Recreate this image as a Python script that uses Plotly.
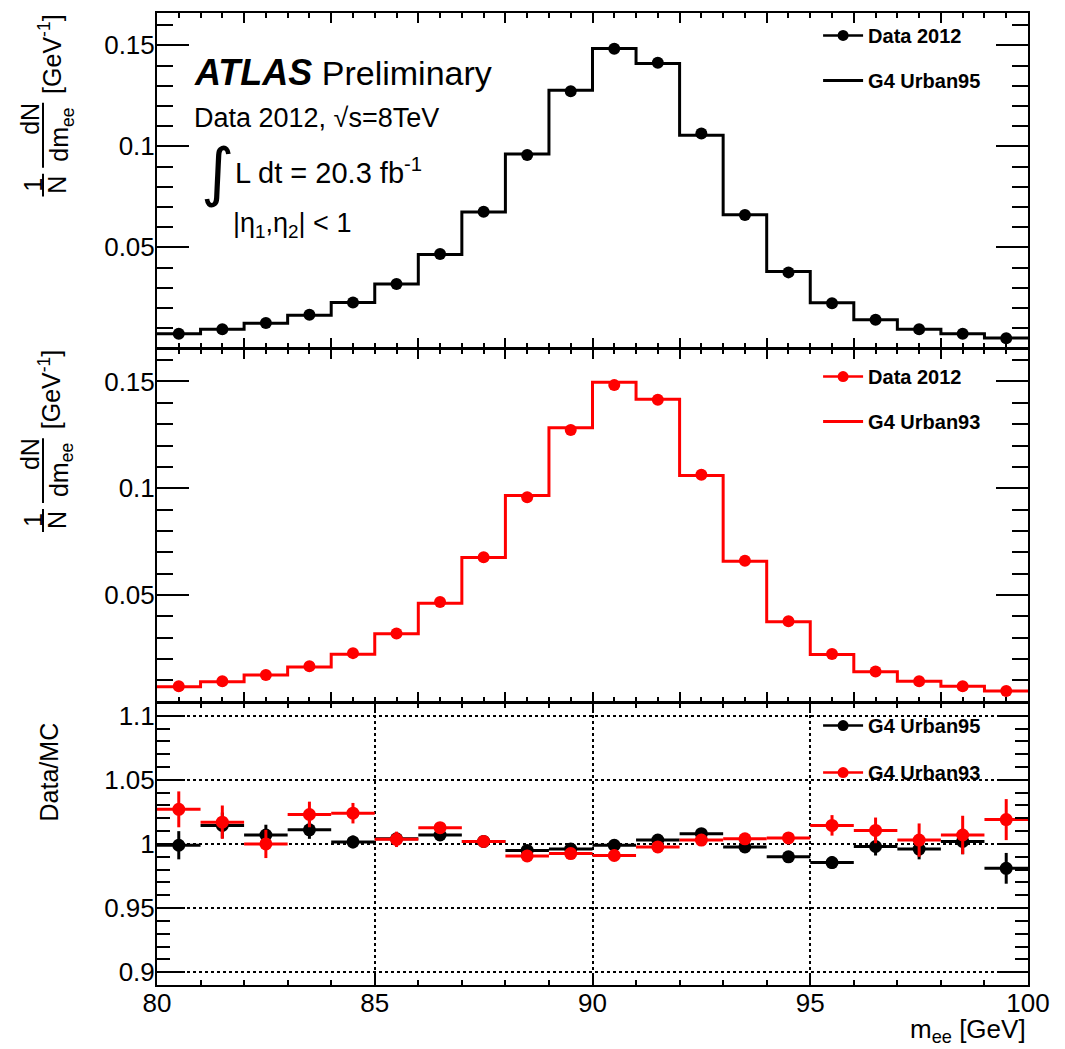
import plotly.graph_objects as go

# ---------------- data ----------------
bin_centers = [80.5, 81.5, 82.5, 83.5, 84.5, 85.5, 86.5, 87.5, 88.5, 89.5,
               90.5, 91.5, 92.5, 93.5, 94.5, 95.5, 96.5, 97.5, 98.5, 99.5]
bin_half_width = 0.5

data_2012 = [0.0072, 0.0095, 0.0125, 0.0166, 0.0227, 0.0319, 0.0467, 0.0676, 0.0957, 0.1273,
             0.1483, 0.1414, 0.1063, 0.0660, 0.0376, 0.0223, 0.0141, 0.0095, 0.0072, 0.0050]

mc_urban95 = [0.0072, 0.0094, 0.0124, 0.0164, 0.0227, 0.0318, 0.0464, 0.0675, 0.0962, 0.1278,
              0.1484, 0.1410, 0.1055, 0.0661, 0.0380, 0.0226, 0.0141, 0.0095, 0.0072, 0.0051]

mc_urban93 = [0.0070, 0.0093, 0.0125, 0.0162, 0.0222, 0.0318, 0.0461, 0.0675, 0.0966, 0.1283,
              0.1496, 0.1417, 0.1060, 0.0657, 0.0374, 0.0220, 0.0140, 0.0095, 0.0072, 0.0049]

ratio_urban95 = [0.999, 1.0145, 1.007, 1.011, 1.0016, 1.004, 1.007, 1.002, 0.995, 0.996,
                 0.999, 1.003, 1.008, 0.9977, 0.990, 0.9855, 0.998, 0.996, 1.002, 0.981]
ratio_urban95_err = [0.011, 0.010, 0.008, 0.007, 0.005, 0.004, 0.003, 0.002, 0.002, 0.002,
                     0.002, 0.002, 0.002, 0.003, 0.003, 0.005, 0.007, 0.008, 0.010, 0.012]

ratio_urban93 = [1.027, 1.017, 1.000, 1.023, 1.024, 1.0036, 1.0127, 1.002, 0.9907, 0.9925,
                 0.991, 0.9977, 1.003, 1.004, 1.0047, 1.0145, 1.0106, 1.003, 1.007, 1.019]
ratio_urban93_err = [0.014, 0.013, 0.011, 0.010, 0.008, 0.006, 0.004, 0.003, 0.002, 0.002,
                     0.002, 0.002, 0.002, 0.003, 0.004, 0.008, 0.010, 0.013, 0.015, 0.016]

top_yticks = [0.05, 0.1, 0.15]
top_yticklabels = ["0.05", "0.1", "0.15"]
ratio_yticks = [0.9, 0.95, 1.0, 1.05, 1.1]
ratio_yticklabels = ["0.9", "0.95", "1", "1.05", "1.1"]
x_ticks = [80, 85, 90, 95, 100]
x_ticklabels = ["80", "85", "90", "95", "100"]

# ---------------- helpers ----------------
edges = [c - bin_half_width for c in bin_centers] + [bin_centers[-1] + bin_half_width]

def step_y(vals):
    return list(vals) + [vals[-1]]

FONT = "Liberation Sans, Arial, Helvetica, sans-serif"
RED = "#ff0000"
BLACK = "#000000"

fig = go.Figure()

# ---------------- top panel ----------------
fig.add_trace(go.Scatter(x=edges, y=step_y(mc_urban95), mode="lines", line_shape="hv",
                         line=dict(color=BLACK, width=3), xaxis="x", yaxis="y",
                         showlegend=False, hoverinfo="skip"))
fig.add_trace(go.Scatter(x=bin_centers, y=data_2012, mode="markers",
                         marker=dict(color=BLACK, size=12), xaxis="x", yaxis="y",
                         showlegend=False))
fig.add_trace(go.Scatter(x=[None], y=[None], mode="lines+markers", name="Data 2012",
                         marker=dict(color=BLACK, size=11), line=dict(color=BLACK, width=2.5),
                         xaxis="x", yaxis="y", legend="legend", legendgroup="a"))
fig.add_trace(go.Scatter(x=[None], y=[None], mode="lines", name="G4 Urban95",
                         line=dict(color=BLACK, width=3),
                         xaxis="x", yaxis="y", legend="legend", legendgroup="b"))

# ---------------- middle panel ----------------
fig.add_trace(go.Scatter(x=edges, y=step_y(mc_urban93), mode="lines", line_shape="hv",
                         line=dict(color=RED, width=3), xaxis="x2", yaxis="y2",
                         showlegend=False, hoverinfo="skip"))
fig.add_trace(go.Scatter(x=bin_centers, y=data_2012, mode="markers",
                         marker=dict(color=RED, size=12), xaxis="x2", yaxis="y2",
                         showlegend=False))
fig.add_trace(go.Scatter(x=[None], y=[None], mode="lines+markers", name="Data 2012",
                         marker=dict(color=RED, size=11), line=dict(color=RED, width=2.5),
                         xaxis="x2", yaxis="y2", legend="legend2", legendgroup="c"))
fig.add_trace(go.Scatter(x=[None], y=[None], mode="lines", name="G4 Urban93",
                         line=dict(color=RED, width=3),
                         xaxis="x2", yaxis="y2", legend="legend2", legendgroup="d"))

# ---------------- ratio panel ----------------
for vals, errs, col, name, grp in [(ratio_urban95, ratio_urban95_err, BLACK, "G4 Urban95", "e"),
                                   (ratio_urban93, ratio_urban93_err, RED, "G4 Urban93", "f")]:
    fig.add_trace(go.Scatter(x=bin_centers, y=vals, mode="markers",
                             marker=dict(color=col, size=13),
                             error_x=dict(type="constant", value=bin_half_width, color=col,
                                          thickness=3, width=0),
                             error_y=dict(type="data", array=errs, color=col,
                                          thickness=3, width=0),
                             xaxis="x3", yaxis="y3", showlegend=False))
    fig.add_trace(go.Scatter(x=[None], y=[None], mode="lines+markers", name=name,
                             marker=dict(color=col, size=11), line=dict(color=col, width=2.5),
                             xaxis="x3", yaxis="y3", legend="legend3", legendgroup=grp))

# ---------------- axes ----------------
def xax(domain_anchor, show_labels, dtick, minor_dtick, grid=False):
    return dict(
        range=[80, 100], anchor=domain_anchor, domain=[0, 1],
        showline=True, linecolor=BLACK, linewidth=2, mirror="ticks",
        ticks="inside", ticklen=10, tickwidth=2, tickcolor=BLACK,
        tickmode="array" if show_labels else "linear",
        tickvals=x_ticks if show_labels else None,
        ticktext=x_ticklabels if show_labels else None,
        tick0=80, dtick=None if show_labels else dtick,
        showticklabels=show_labels,
        ticklabelstandoff=-6,
        tickfont=dict(family=FONT, size=26, color=BLACK),
        minor=dict(ticks="inside", ticklen=5, tickwidth=2, tickcolor=BLACK,
                   dtick=minor_dtick, tick0=80, showgrid=False),
        showgrid=grid, gridcolor=BLACK, gridwidth=1.5, griddash="dot",
        zeroline=False,
    )

def yax(domain, rng, anchor, tickvals, ticktext, majlen, minlen, minor_dtick, minor_tick0, grid=False):
    return dict(
        domain=domain, range=rng, anchor=anchor,
        showline=True, linecolor=BLACK, linewidth=2, mirror="ticks",
        ticks="inside", ticklen=majlen, tickwidth=2, tickcolor=BLACK,
        tickmode="array", tickvals=tickvals, ticktext=ticktext,
        ticklabelstandoff=-5,
        tickfont=dict(family=FONT, size=26, color=BLACK),
        minor=dict(ticks="inside", ticklen=minlen, tickwidth=2, tickcolor=BLACK,
                   dtick=minor_dtick, tick0=minor_tick0, showgrid=False),
        showgrid=grid, gridcolor=BLACK, gridwidth=1.5, griddash="dot",
        zeroline=False,
    )

LEG_FONT = dict(family=FONT, size=20, weight="bold", color=BLACK)

fig.update_layout(
    width=1065, height=1049,
    margin=dict(l=157, r=37, t=11, b=64),
    paper_bgcolor="white", plot_bgcolor="white",
    font=dict(family=FONT, color=BLACK),
    xaxis=xax("y", False, 2, 0.5),
    xaxis2=xax("y2", False, 2, 0.5),
    xaxis3=xax("y3", True, 5, 1, grid=True),
    yaxis=yax([0.6550, 1.0], [0, 0.166], "x", top_yticks, top_yticklabels, 32, 16, 0.01, 0),
    yaxis2=yax([0.2916, 0.6547], [0, 0.1654], "x2", top_yticks, top_yticklabels, 32, 16, 0.01, 0),
    yaxis3=yax([0.0, 0.2902], [0.89, 1.11], "x3", ratio_yticks, ratio_yticklabels, 28, 13, 0.01, 0.9, grid=True),
    legend=dict(x=0.759, y=0.997, xanchor="left", yanchor="top", bgcolor="rgba(0,0,0,0)",
                font=LEG_FONT, itemwidth=40, tracegroupgap=16, traceorder="grouped"),
    legend2=dict(x=0.759, y=0.646, xanchor="left", yanchor="top", bgcolor="rgba(0,0,0,0)",
                 font=LEG_FONT, itemwidth=40, tracegroupgap=16, traceorder="grouped"),
    legend3=dict(x=0.759, y=0.287, xanchor="left", yanchor="top", bgcolor="rgba(0,0,0,0)",
                 font=LEG_FONT, itemwidth=40, tracegroupgap=18, traceorder="grouped"),
)

# ---------------- text annotations ----------------
def px_x(p):
    return (p - 157) / 871.0

def px_y(p):
    return (985 - p) / 974.0

ann = []
ann.append(dict(x=px_x(192), y=px_y(71), xref="paper", yref="paper", xanchor="left", yanchor="middle",
                text="<span style='font-size:36px'><b><i>ATLAS</i></b></span> Preliminary", showarrow=False,
                font=dict(family=FONT, size=34, color=BLACK)))
ann.append(dict(x=px_x(192), y=px_y(116), xref="paper", yref="paper", xanchor="left", yanchor="middle",
                text="Data 2012, √s=8TeV", showarrow=False,
                font=dict(family=FONT, size=27, color=BLACK)))
ann.append(dict(x=px_x(199), y=px_y(170), xref="paper", yref="paper", xanchor="left", yanchor="middle",
                text="∫", showarrow=False,
                font=dict(family="DejaVu Sans", size=64, color=BLACK)))
ann.append(dict(x=px_x(233), y=px_y(169), xref="paper", yref="paper", xanchor="left", yanchor="middle",
                text="L dt = 20.3 fb<sup>-1</sup>", showarrow=False,
                font=dict(family=FONT, size=29, color=BLACK)))
ann.append(dict(x=px_x(231), y=px_y(223), xref="paper", yref="paper", xanchor="left", yanchor="middle",
                text="|η<sub>1</sub>,η<sub>2</sub>| < 1", showarrow=False,
                font=dict(family=FONT, size=27, color=BLACK)))

# y-axis titles (fraction built from pieces)
shapes = []
TF = dict(family=FONT, size=25, color=BLACK)
for off in (0, 336):
    ann.append(dict(x=px_x(50), y=px_y(52 + off), xref="paper", yref="paper",
                    xanchor="center", yanchor="middle",
                    text="[GeV<sup>-1</sup>]", textangle=-90, showarrow=False, font=TF))
    ann.append(dict(x=px_x(30), y=px_y(117 + off), xref="paper", yref="paper",
                    xanchor="center", yanchor="middle",
                    text="dN", textangle=-90, showarrow=False, font=TF))
    ann.append(dict(x=px_x(61), y=px_y(133 + off), xref="paper", yref="paper",
                    xanchor="center", yanchor="middle",
                    text="dm<sub>ee</sub>", textangle=-90, showarrow=False, font=TF))
    ann.append(dict(x=px_x(33), y=px_y(183 + off), xref="paper", yref="paper",
                    xanchor="center", yanchor="middle",
                    text="1", textangle=-90, showarrow=False, font=TF))
    ann.append(dict(x=px_x(57), y=px_y(183 + off), xref="paper", yref="paper",
                    xanchor="center", yanchor="middle",
                    text="N", textangle=-90, showarrow=False, font=TF))
    shapes.append(dict(type="line", xref="paper", yref="paper",
                       x0=px_x(43), x1=px_x(43), y0=px_y(101 + off), y1=px_y(166 + off),
                       line=dict(color=BLACK, width=2)))
    shapes.append(dict(type="line", xref="paper", yref="paper",
                       x0=px_x(43), x1=px_x(43), y0=px_y(172 + off), y1=px_y(195 + off),
                       line=dict(color=BLACK, width=2)))

ann.append(dict(x=px_x(49), y=px_y(772), xref="paper", yref="paper",
                xanchor="center", yanchor="middle",
                text="Data/MC", textangle=-90, showarrow=False, font=TF))
ann.append(dict(x=1.0, y=px_y(1031), xref="paper", yref="paper", xanchor="right", yanchor="middle",
                text="m<sub>ee</sub> [GeV]", showarrow=False,
                font=dict(family=FONT, size=26, color=BLACK)))

fig.update_layout(annotations=ann, shapes=shapes)

fig.write_html("out.html", config={"displayModeBar": False},
               post_script="document.body.style.margin='0px';")
